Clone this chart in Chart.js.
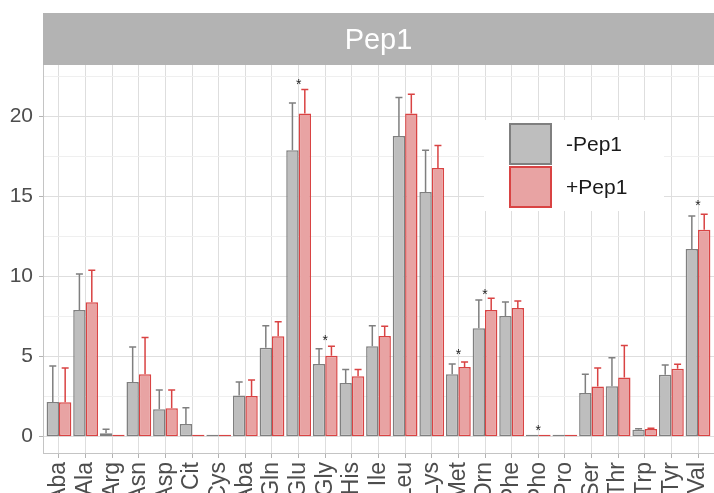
<!DOCTYPE html>
<html>
<head>
<meta charset="utf-8">
<script src="https://cdn.jsdelivr.net/npm/chart.js@4"></script>
<style>
html, body { margin: 0; padding: 0; overflow: hidden; background: #fff; }
#wrap { width: 714px; height: 540px; }
</style>
</head>
<body>
<div id="wrap"><canvas id="chart" width="714" height="540"></canvas></div>
<script>
// amino acid categories (labels as visible in the figure)
const categories = ['Aba', 'Ala', 'Arg', 'Asn', 'Asp', 'Cit', 'Cys', 'Aba', 'Gln', 'Glu', 'Gly', 'His',
    'Ile', 'Leu', 'Lys', 'Met', 'Orn', 'Phe', 'Pho', 'Pro', 'Ser', 'Thr', 'Trp', 'Tyr', 'Val'];

// -Pep1 (grey) means and upper error
const minusMean = [2.17, 7.92, 0.21, 3.42, 1.71, 0.79, 0.03, 2.58, 5.56, 17.9, 4.54, 3.35,
    5.65, 18.8, 15.3, 3.9, 6.77, 7.54, 0.08, 0.03, 2.73, 3.15, 0.44, 3.87, 11.73];
const minusErr = [2.25, 2.25, 0.25, 2.18, 1.21, 1.02, 0, 0.84, 1.38, 2.95, 0.96, 0.85,
    1.29, 2.4, 2.6, 0.64, 1.77, 0.88, 0, 0, 1.17, 1.79, 0.06, 0.61, 2.07];

// +Pep1 (red) means and upper error
const plusMean = [2.15, 8.4, 0.07, 3.9, 1.77, 0.08, 0.03, 2.54, 6.27, 20.2, 5.06, 3.77,
    6.3, 20.2, 16.8, 4.35, 7.92, 8.04, 0.08, 0.03, 3.13, 3.7, 0.48, 4.25, 12.94];
const plusErr = [2.15, 2.0, 0, 2.3, 1.15, 0, 0, 1.0, 0.92, 1.5, 0.59, 0.43,
    0.6, 1.2, 1.4, 0.32, 0.73, 0.44, 0, 0, 1.17, 2.0, 0.04, 0.27, 0.96];

// significance stars (height where the * sits)
const starAt = [null, null, null, null, null, null, null, null, null, 22.2, 6.25, null,
    null, null, null, 5.33, 9.1, null, 0.63, null, null, null, null, null, 14.64];

const yLabelValues = [0, 5, 10, 15, 20];
const yGridValues = [0, 2.5, 5, 7.5, 10, 12.5, 15, 17.5, 20, 22.5];
const seriesNames = ['-Pep1', '+Pep1'];

const greyFill = '#bebebe', greyLine = '#7f7f7f';
const redFill = '#e8a3a3', redLine = '#d94343';
const FONT = '"Liberation Sans", Arial, sans-serif';

const stripPlugin = {
    id: 'strip',
    beforeDraw(chart) {
        const ctx = chart.ctx, a = chart.chartArea;
        ctx.save();
        ctx.fillStyle = '#b3b3b3';
        ctx.fillRect(a.left, 13, chart.width - a.left, a.top - 13);
        ctx.fillStyle = '#ffffff';
        ctx.font = '29px ' + FONT;
        ctx.textAlign = 'center';
        ctx.textBaseline = 'alphabetic';
        ctx.fillText('Pep1', (a.left + chart.width) / 2, 49);
        ctx.restore();
    }
};

const errorPlugin = {
    id: 'errs',
    afterDatasetsDraw(chart) {
        const ctx = chart.ctx, y = chart.scales.y;
        const errs = [minusErr, plusErr];
        const cols = [greyLine, redLine];
        ctx.save();
        ctx.lineWidth = 1.5;
        [0, 1].forEach(d => {
            const meta = chart.getDatasetMeta(d);
            const means = chart.data.datasets[d].data;
            ctx.strokeStyle = cols[d];
            meta.data.forEach((bar, i) => {
                const e = errs[d][i];
                if (!e) return;
                const top = y.getPixelForValue(means[i].y + e);
                ctx.beginPath();
                ctx.moveTo(bar.x, bar.y);
                ctx.lineTo(bar.x, top);
                ctx.moveTo(bar.x - 3.5, top);
                ctx.lineTo(bar.x + 3.5, top);
                ctx.stroke();
            });
        });
        // stars
        ctx.fillStyle = '#222';
        ctx.font = '14px ' + FONT;
        ctx.textAlign = 'center';
        ctx.textBaseline = 'alphabetic';
        starAt.forEach((v, i) => {
            if (v == null) return;
            ctx.fillText('*', chart.scales.x.getPixelForValue(i), y.getPixelForValue(v) + 8);
        });
        ctx.restore();
    }
};

const legendPlugin = {
    id: 'boxLegend',
    afterDraw(chart) {
        const ctx = chart.ctx;
        ctx.save();
        ctx.fillStyle = '#ffffff';
        ctx.fillRect(484, 120, 180, 91);
        const keys = [[greyFill, greyLine, 123], [redFill, redLine, 166]];
        keys.forEach((k, i) => {
            ctx.fillStyle = k[0];
            ctx.strokeStyle = k[1];
            ctx.lineWidth = 2;
            ctx.fillRect(510, k[2] + 1, 41, 40);
            ctx.strokeRect(510, k[2] + 1, 41, 40);
            ctx.fillStyle = '#1a1a1a';
            ctx.font = '21px ' + FONT;
            ctx.textAlign = 'left';
            ctx.textBaseline = 'middle';
            ctx.fillText(seriesNames[i], 566, k[2] + 22);
        });
        ctx.restore();
    }
};

new Chart(document.getElementById('chart'), {
    type: 'bar',
    data: {
        datasets: [{
            label: seriesNames[0],
            data: minusMean.map((v, i) => ({x: i, y: v})),
            backgroundColor: greyFill,
            borderColor: greyLine,
            borderWidth: 1.5,
            borderSkipped: false,
            minBarLength: 2
        }, {
            label: seriesNames[1],
            data: plusMean.map((v, i) => ({x: i, y: v})),
            backgroundColor: redFill,
            borderColor: redLine,
            borderWidth: 1.5,
            borderSkipped: false,
            minBarLength: 2
        }]
    },
    options: {
        responsive: false,
        animation: false,
        events: [],
        categoryPercentage: 0.93,
        barPercentage: 1.0,
        layout: { padding: { top: 65, left: 0, right: 0, bottom: 0 } },
        plugins: {
            legend: { display: false },
            tooltip: { enabled: false }
        },
        scales: {
            x: {
                type: 'linear',
                offset: false,
                min: -0.6,
                max: 24.6,
                afterBuildTicks: s => { s.ticks = categories.map((c, i) => ({value: i})); },
                afterFit: s => { s.height = 87; s.paddingLeft = 0; s.paddingRight = 0; },
                grid: { offset: false, color: '#dedede', tickColor: '#b3b3b3', tickLength: 5, lineWidth: 1 },
                border: { display: true, color: '#c4c4c4' },
                ticks: {
                    autoSkip: false,
                    minRotation: 90,
                    maxRotation: 90,
                    padding: 4,
                    color: '#4d4d4d',
                    font: { family: FONT, size: 23 },
                    callback: v => categories[v]
                }
            },
            y: {
                min: -1.02,
                max: 23.23,
                afterBuildTicks: s => { s.ticks = yGridValues.map(v => ({value: v})); },
                afterFit: s => { s.width = 43; },
                grid: {
                    color: c => yLabelValues.includes(c.tick.value) ? '#dedede' : '#efefef',
                    tickColor: c => yLabelValues.includes(c.tick.value) ? '#b3b3b3' : 'rgba(0,0,0,0)',
                    tickLength: 4
                },
                border: { display: true, color: '#c4c4c4' },
                ticks: {
                    padding: 6,
                    color: '#4d4d4d',
                    font: { family: FONT, size: 21 },
                    callback: v => yLabelValues.includes(v) ? String(v) : ''
                }
            }
        }
    },
    plugins: [stripPlugin, errorPlugin, legendPlugin]
});
</script>
</body>
</html>
